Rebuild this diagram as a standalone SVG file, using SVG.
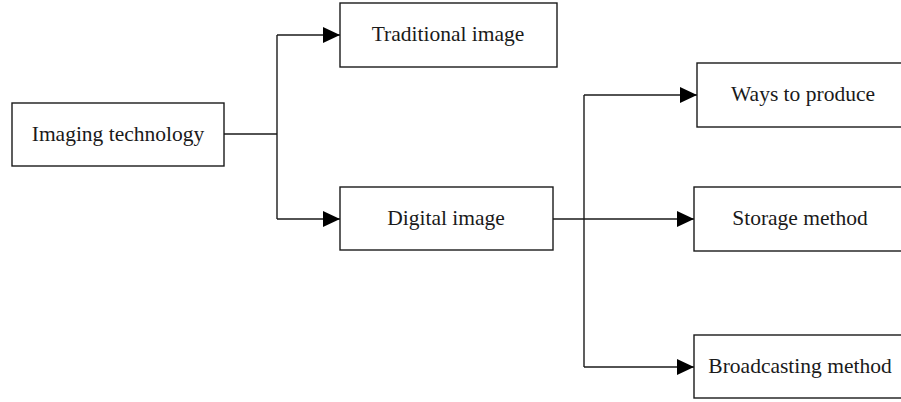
<svg xmlns="http://www.w3.org/2000/svg" width="901" height="402" viewBox="0 0 901 402">
  <defs>
    <style>
      .box { fill: #ffffff; stroke: #1a1a1a; stroke-width: 1.4; }
      .lbl { font-family: "Liberation Serif", "Times New Roman", serif; font-size: 21.5px; fill: #1a1a1a; text-anchor: middle; }
      .wire { fill: none; stroke: #1a1a1a; stroke-width: 1.4; }
    </style>
    <marker id="arrow" viewBox="0 0 17 16" refX="17" refY="8" markerWidth="17" markerHeight="16" markerUnits="userSpaceOnUse" orient="auto">
      <path d="M0,0 L17,8 L0,16 Z" fill="#000000"/>
    </marker>
  </defs>
  <rect width="901" height="402" fill="#ffffff"/>

  <g id="connectors">
    <path class="wire" d="M224,134 H277"/>
    <path class="wire" d="M277,35 V219"/>
    <path class="wire" d="M277,35 H340" marker-end="url(#arrow)"/>
    <path class="wire" d="M277,219 H340" marker-end="url(#arrow)"/>
    <path class="wire" d="M553,219 H694" marker-end="url(#arrow)"/>
    <path class="wire" d="M584,95 V367"/>
    <path class="wire" d="M584,95 H697" marker-end="url(#arrow)"/>
    <path class="wire" d="M584,367 H694" marker-end="url(#arrow)"/>
  </g>

  <g id="imaging-technology">
    <rect class="box" x="12" y="103" width="212" height="63"/>
    <text class="lbl" x="118" y="141">Imaging technology</text>
  </g>
  <g id="traditional-image">
    <rect class="box" x="340" y="3" width="217" height="64"/>
    <text class="lbl" x="448" y="41">Traditional image</text>
  </g>
  <g id="digital-image">
    <rect class="box" x="340" y="187" width="213" height="63"/>
    <text class="lbl" x="446" y="225">Digital image</text>
  </g>
  <g id="ways-to-produce">
    <rect class="box" x="697" y="63" width="210" height="64"/>
    <text class="lbl" x="803" y="101">Ways to produce</text>
  </g>
  <g id="storage-method">
    <rect class="box" x="694" y="187" width="213" height="64"/>
    <text class="lbl" x="800" y="225">Storage method</text>
  </g>
  <g id="broadcasting-method">
    <rect class="box" x="694" y="335" width="213" height="63"/>
    <text class="lbl" x="800" y="373">Broadcasting method</text>
  </g>
</svg>
